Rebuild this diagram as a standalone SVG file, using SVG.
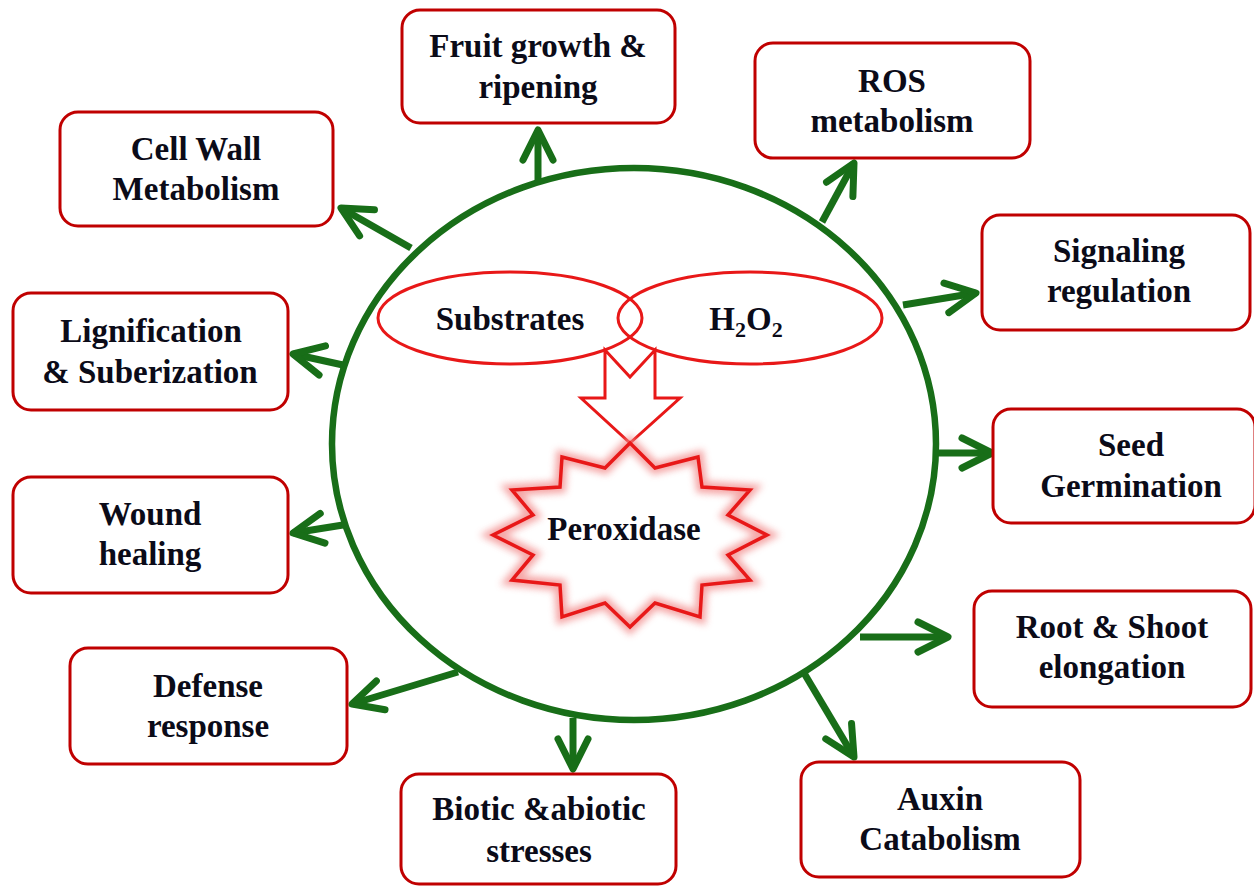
<svg xmlns="http://www.w3.org/2000/svg" width="1254" height="886" viewBox="0 0 1254 886">
<defs>
<style>
.box{fill:#fff;stroke:#C00000;stroke-width:3}
.t{font-family:"Liberation Serif","Times New Roman",serif;font-weight:bold;font-size:33px;fill:#0b0b18;text-anchor:middle}
.con{stroke:#186E18;stroke-width:7;fill:none;stroke-linecap:butt}
.red{fill:none;stroke:#E81818;stroke-width:3}
</style>
<marker id="chev" markerUnits="userSpaceOnUse" viewBox="-40 -25 50 50" markerWidth="50" markerHeight="50" refX="0" refY="0" orient="auto">
<path d="M-30,-15 L0,0 L-30,15" fill="none" stroke="#186E18" stroke-width="7" stroke-linecap="round" stroke-linejoin="round"/>
</marker>
<filter id="glow" x="-20%" y="-20%" width="140%" height="140%">
<feGaussianBlur stdDeviation="3.5"/>
</filter>
</defs>
<rect width="1254" height="886" fill="#fff"/>

<g id="hub">
<ellipse cx="634" cy="444" rx="302" ry="276" fill="none" stroke="#186E18" stroke-width="6.5"/>
</g>

<g id="substrates">
<ellipse class="red" cx="510" cy="318" rx="132" ry="46"/>
<text class="t" x="510" y="330">Substrates</text>
</g>
<g id="h2o2">
<ellipse class="red" cx="750" cy="318" rx="132" ry="46"/>
<text class="t" x="746" y="330">H<tspan font-size="22" dy="7">2</tspan><tspan dy="-7">O</tspan><tspan font-size="22" dy="7">2</tspan></text>
</g>

<g id="blockarrow">
<polygon points="605,350 630,377 655,350 655,398 680,398 630,443 581,398 605,398" fill="#fff" stroke="#E81818" stroke-width="3" stroke-linejoin="miter"/>
</g>

<g id="peroxidase">
<polygon id="starfill" points="630,443 655,468 698,457 702,487 750,490 728,515 767,535 728,555 750,580 702,585 700,617 655,603 630,627 605,603 562,617 560,585 512,580 533,555 493,535 533,515 512,490 560,487 562,457 605,468" fill="#fff"/>
<polygon points="630,443 655,468 698,457 702,487 750,490 728,515 767,535 728,555 750,580 702,585 700,617 655,603 630,627 605,603 562,617 560,585 512,580 533,555 493,535 533,515 512,490 560,487 562,457 605,468" fill="none" stroke="#F28A8A" stroke-width="12" opacity="0.75" filter="url(#glow)"/>
<polygon points="630,443 655,468 698,457 702,487 750,490 728,515 767,535 728,555 750,580 702,585 700,617 655,603 630,627 605,603 562,617 560,585 512,580 533,555 493,535 533,515 512,490 560,487 562,457 605,468" fill="none" stroke="#E81818" stroke-width="3.5"/>
<text class="t" x="624" y="540">Peroxidase</text>
</g>

<g id="connectors">
<path class="con" d="M538,181 L538,130" marker-end="url(#chev)"/>
<path class="con" d="M411,248 L341,208" marker-end="url(#chev)"/>
<path class="con" d="M822,222 L854,163" marker-end="url(#chev)"/>
<path class="con" d="M903,305 L976,293" marker-end="url(#chev)"/>
<path class="con" d="M937,453 L992,453" marker-end="url(#chev)"/>
<path class="con" d="M860,637 L948,637" marker-end="url(#chev)"/>
<path class="con" d="M804,673 L854,757" marker-end="url(#chev)"/>
<path class="con" d="M573,718 L573,769" marker-end="url(#chev)"/>
<path class="con" d="M458,672 L352,704" marker-end="url(#chev)"/>
<path class="con" d="M343,525 L293,533" marker-end="url(#chev)"/>
<path class="con" d="M343,365 L293,354" marker-end="url(#chev)"/>
</g>

<g id="fruit">
<rect class="box" x="402" y="10" width="273" height="113" rx="18"/>
<text class="t" x="538" y="57">Fruit growth &amp;</text>
<text class="t" x="538" y="98">ripening</text>
</g>
<g id="cellwall">
<rect class="box" x="60" y="112" width="273" height="114" rx="18"/>
<text class="t" x="196" y="160">Cell Wall</text>
<text class="t" x="196" y="200">Metabolism</text>
</g>
<g id="ros">
<rect class="box" x="755" y="43" width="275" height="115" rx="18"/>
<text class="t" x="892" y="92">ROS</text>
<text class="t" x="892" y="132">metabolism</text>
</g>
<g id="signaling">
<rect class="box" x="982" y="215" width="268" height="115" rx="18"/>
<text class="t" x="1119" y="262">Signaling</text>
<text class="t" x="1119" y="302">regulation</text>
</g>
<g id="seed">
<rect class="box" x="993" y="409" width="262" height="114" rx="18"/>
<text class="t" x="1131" y="456">Seed</text>
<text class="t" x="1131" y="497">Germination</text>
</g>
<g id="lignification">
<rect class="box" x="13" y="293" width="275" height="117" rx="18"/>
<text class="t" x="151" y="342">Lignification</text>
<text class="t" x="150" y="383">&amp; Suberization</text>
</g>
<g id="wound">
<rect class="box" x="13" y="477" width="275" height="116" rx="18"/>
<text class="t" x="150" y="525">Wound</text>
<text class="t" x="150" y="565">healing</text>
</g>
<g id="defense">
<rect class="box" x="70" y="648" width="277" height="116" rx="18"/>
<text class="t" x="208" y="697">Defense</text>
<text class="t" x="208" y="737">response</text>
</g>
<g id="biotic">
<rect class="box" x="401" y="774" width="275" height="110" rx="18"/>
<text class="t" x="539" y="820">Biotic &amp;abiotic</text>
<text class="t" x="539" y="862">stresses</text>
</g>
<g id="root">
<rect class="box" x="974" y="591" width="277" height="116" rx="18"/>
<text class="t" x="1112" y="638">Root &amp; Shoot</text>
<text class="t" x="1112" y="678">elongation</text>
</g>
<g id="auxin">
<rect class="box" x="801" y="762" width="279" height="115" rx="18"/>
<text class="t" x="940" y="810">Auxin</text>
<text class="t" x="940" y="850">Catabolism</text>
</g>
</svg>
